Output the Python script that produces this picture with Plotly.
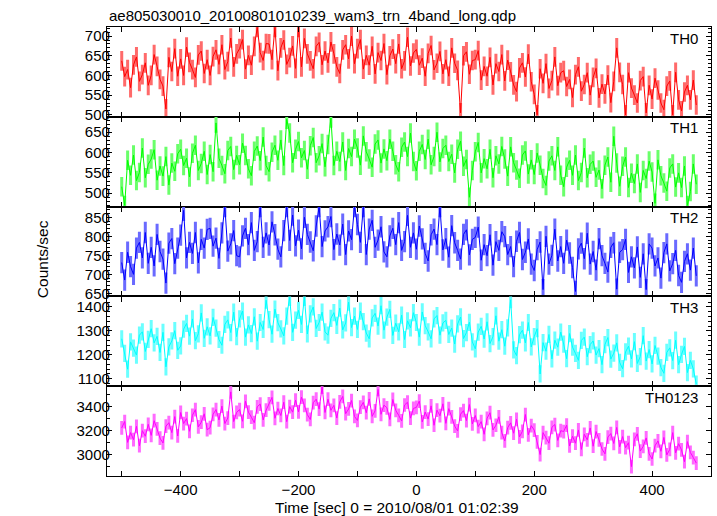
import numpy as np
import plotly.graph_objects as go
from plotly.subplots import make_subplots

title_text = "ae805030010_20100801010239_wam3_trn_4band_long.qdp"
x_title = "Time [sec] 0 = 2010/08/01 01:02:39"
y_title = "Counts/sec"
band_names = ["TH0", "TH1", "TH2", "TH3", "TH0123"]
colors = ["#ff0000", "#00ff00", "#0000ff", "#00ffff", "#ff00ff"]
err_colors = ["#ff6a6a", "#6aff6a", "#6a6aff", "#6affff", "#ff6aff"]
t_start = -500
t_step = 5

# typical 1-sigma error per bin
errs = [25, 24, 28, 36, 57]

th0 = [637, 597, 615, 569, 627, 647, 585, 602, 632, 575,
       600, 653, 623, 590, 573, 515, 646, 610, 668, 598,
       642, 600, 672, 633, 615, 595, 652, 662, 605, 640,
       600, 648, 665, 628, 678, 615, 635, 695, 622, 655,
       668, 691, 616, 651, 626, 674, 722, 658, 638, 681,
       680, 640, 722, 612, 670, 690, 628, 645, 675, 618,
       722, 622, 694, 655, 637, 617, 674, 684, 627, 662,
       632, 685, 655, 622, 605, 665, 678, 642, 700, 630,
       668, 691, 616, 651, 626, 674, 604, 658, 638, 681,
       602, 650, 667, 630, 680, 617, 637, 697, 624, 657,
       666, 626, 644, 598, 656, 676, 614, 631, 661, 604,
       640, 598, 670, 631, 613, 505, 650, 660, 603, 638,
       640, 663, 588, 623, 598, 646, 576, 630, 610, 653,
       586, 639, 609, 576, 559, 619, 632, 596, 654, 584,
       552, 500, 617, 580, 630, 567, 587, 647, 574, 607,
       612, 572, 590, 544, 602, 622, 560, 577, 607, 550,
       595, 618, 543, 578, 553, 601, 531, 585, 670, 608,
       577, 500, 607, 568, 550, 530, 587, 597, 505, 575,
       540, 593, 563, 530, 513, 573, 586, 500, 608, 538,
       510, 558, 575, 538, 588, 525]

th1 = [516, 470, 581, 544, 594, 531, 551, 611, 538, 571,
       584, 607, 532, 567, 542, 590, 520, 574, 554, 597,
       608, 568, 586, 540, 598, 618, 556, 573, 603, 546,
       595, 553, 673, 586, 568, 548, 605, 615, 558, 593,
       570, 623, 593, 560, 543, 603, 616, 580, 638, 568,
       553, 601, 618, 581, 631, 568, 682, 648, 575, 608,
       627, 587, 605, 559, 617, 637, 575, 592, 622, 565,
       620, 685, 568, 603, 578, 626, 556, 610, 590, 633,
       611, 569, 641, 602, 584, 564, 621, 631, 574, 609,
       580, 633, 603, 570, 553, 613, 626, 590, 648, 578,
       555, 603, 620, 583, 633, 570, 590, 650, 577, 610,
       618, 578, 596, 550, 608, 628, 566, 583, 490, 556,
       602, 625, 550, 585, 560, 608, 538, 592, 572, 615,
       584, 542, 614, 575, 557, 537, 594, 604, 547, 582,
       546, 599, 569, 536, 519, 579, 592, 556, 614, 544,
       516, 564, 581, 544, 594, 531, 551, 611, 538, 571,
       579, 539, 557, 511, 569, 589, 527, 640, 574, 517,
       566, 589, 514, 549, 524, 572, 502, 556, 536, 579,
       552, 475, 582, 543, 525, 505, 562, 572, 515, 550,
       514, 567, 470, 504, 572, 522]

th2 = [731, 685, 758, 720, 700, 769, 784, 743, 810, 729,
       771, 722, 805, 760, 740, 677, 782, 794, 728, 769,
       803, 868, 743, 784, 755, 810, 730, 792, 769, 818,
       821, 774, 795, 742, 809, 878, 761, 780, 815, 749,
       746, 801, 821, 778, 836, 763, 786, 878, 771, 809,
       777, 838, 804, 766, 746, 815, 878, 789, 856, 775,
       816, 767, 850, 805, 785, 762, 827, 878, 773, 814,
       825, 852, 765, 806, 777, 832, 752, 814, 791, 878,
       831, 784, 878, 752, 819, 842, 771, 790, 825, 759,
       746, 801, 821, 778, 836, 763, 786, 855, 771, 809,
       766, 827, 793, 755, 735, 804, 819, 778, 878, 764,
       794, 745, 828, 783, 763, 740, 805, 817, 751, 792,
       797, 824, 737, 778, 749, 804, 724, 786, 763, 812,
       799, 752, 773, 720, 787, 810, 739, 758, 793, 727,
       710, 765, 785, 660, 800, 727, 750, 819, 735, 773,
       729, 790, 756, 718, 655, 767, 782, 741, 808, 727,
       760, 711, 794, 749, 729, 706, 771, 783, 661, 758,
       765, 792, 705, 746, 717, 772, 692, 754, 660, 780,
       769, 722, 743, 690, 757, 780, 709, 728, 763, 697,
       679, 734, 754, 711, 769, 696]

th3 = [1267, 1206, 1140, 1254, 1228, 1199, 1282, 1296, 1214, 1265,
       1309, 1250, 1277, 1210, 1294, 1150, 1233, 1258, 1301, 1219,
       1237, 1307, 1331, 1278, 1350, 1259, 1288, 1375, 1269, 1317,
       1279, 1356, 1312, 1264, 1240, 1327, 1346, 1293, 1378, 1276,
       1350, 1383, 1274, 1325, 1289, 1359, 1257, 1335, 1306, 1428,
       1347, 1286, 1391, 1334, 1308, 1279, 1362, 1440, 1294, 1345,
       1386, 1327, 1440, 1287, 1371, 1400, 1310, 1335, 1378, 1296,
       1282, 1352, 1376, 1323, 1395, 1304, 1333, 1420, 1314, 1362,
       1306, 1383, 1339, 1291, 1267, 1354, 1373, 1320, 1405, 1303,
       1357, 1390, 1281, 1332, 1296, 1366, 1264, 1342, 1313, 1376,
       1335, 1274, 1379, 1322, 1296, 1267, 1350, 1364, 1282, 1333,
       1344, 1285, 1312, 1245, 1329, 1358, 1268, 1293, 1336, 1254,
       1225, 1295, 1319, 1266, 1338, 1247, 1276, 1363, 1257, 1305,
       1236, 1313, 1430, 1221, 1197, 1284, 1303, 1250, 1335, 1233,
       1276, 1309, 1120, 1251, 1215, 1285, 1183, 1261, 1232, 1295,
       1245, 1184, 1289, 1232, 1206, 1177, 1260, 1274, 1192, 1243,
       1258, 1199, 1226, 1159, 1243, 1272, 1182, 1207, 1250, 1168,
       1142, 1212, 1236, 1183, 1255, 1164, 1193, 1280, 1174, 1222,
       1162, 1239, 1195, 1147, 1123, 1210, 1229, 1176, 1261, 1159,
       1202, 1235, 1126, 1177, 1141, 1078]

th0123 = [3221, 3274, 3101, 3182, 3124, 3234, 3073, 3198, 3152, 3251,
          3159, 3281, 3212, 3136, 3096, 3235, 3264, 3182, 3315, 3154,
          3349, 3257, 3298, 3193, 3326, 3372, 3229, 3268, 3338, 3206,
          3223, 3333, 3373, 3287, 3402, 3257, 3303, 3520, 3274, 3350,
          3373, 3276, 3442, 3352, 3310, 3264, 3396, 3419, 3287, 3368,
          3421, 3474, 3301, 3382, 3324, 3434, 3273, 3398, 3352, 3451,
          3354, 3476, 3407, 3331, 3291, 3430, 3459, 3377, 3560, 3349,
          3459, 3367, 3408, 3303, 3436, 3482, 3339, 3378, 3448, 3316,
          3283, 3393, 3433, 3347, 3462, 3317, 3363, 3540, 3334, 3410,
          3388, 3291, 3457, 3367, 3325, 3279, 3411, 3434, 3302, 3383,
          3391, 3444, 3271, 3352, 3294, 3404, 3243, 3368, 3322, 3421,
          3259, 3381, 3312, 3236, 3196, 3335, 3364, 3282, 3415, 3254,
          3324, 3232, 3273, 3168, 3301, 3347, 3204, 3243, 3313, 3181,
          3113, 3223, 3263, 3177, 3292, 3147, 3193, 3332, 3164, 3240,
          3203, 3106, 3000, 3182, 3140, 3094, 3226, 3249, 3117, 3198,
          3191, 3244, 3071, 3152, 3094, 3204, 3043, 3168, 3122, 3221,
          3069, 3191, 3122, 3046, 3006, 3145, 3174, 3092, 3225, 3064,
          3149, 3057, 3098, 2900, 3126, 3172, 3029, 3068, 3138, 3006,
          2963, 3073, 3113, 3027, 3142, 2997, 3043, 3182, 3014, 3090,
          3038, 2941, 3107, 3017, 2975, 2929]

series = [th0, th1, th2, th3, th0123]
y_ranges = [[495, 723], [467, 688], [642, 878], [1069, 1444], [2822, 3567]]
y_dticks = [50, 50, 50, 100, 200]
y_minor = [10, 10, 10, 20, 100]

FONT = "Liberation Sans, Arial, Helvetica, sans-serif"

fig = make_subplots(rows=5, cols=1, shared_xaxes=True, vertical_spacing=0)

for i, vals in enumerate(series):
    t = t_start + t_step * np.arange(len(vals))
    fig.add_trace(go.Scatter(x=t, y=vals, mode="markers",
                             marker=dict(size=1, opacity=0),
                             error_y=dict(type="constant", value=errs[i],
                                          color=err_colors[i], thickness=3,
                                          width=0),
                             showlegend=False, hoverinfo="skip"),
                  row=i + 1, col=1)
    fig.add_trace(go.Scatter(x=t, y=vals, mode="lines",
                             line=dict(color=colors[i], width=1),
                             showlegend=False, hoverinfo="skip"),
                  row=i + 1, col=1)
    fig.update_yaxes(range=y_ranges[i], dtick=y_dticks[i], tick0=0,
                     ticks="inside", ticklen=5, tickwidth=1, tickcolor="black",
                     minor=dict(dtick=y_minor[i], ticks="inside", ticklen=2.5,
                                tickwidth=1, tickcolor="black"),
                     showline=True, linecolor="black", linewidth=1.2,
                     mirror="allticks", showgrid=False, zeroline=False,
                     ticklabelstandoff=-7,
                     tickfont=dict(size=15, color="black", family=FONT),
                     row=i + 1, col=1)
    fig.update_xaxes(range=[-525, 500], dtick=200, tick0=0,
                     ticks="inside", ticklen=5, tickwidth=1, tickcolor="black",
                     minor=dict(dtick=100, ticks="inside", ticklen=5,
                                tickwidth=1, tickcolor="black"),
                     showline=True, linecolor="black", linewidth=1.2,
                     mirror="allticks", showgrid=False, zeroline=False,
                     showticklabels=(i == 4),
                     tickfont=dict(size=15, color="black", family=FONT),
                     row=i + 1, col=1)

annotations = []
n = len(band_names)
for i, name in enumerate(band_names):
    y_top = 1 - i / n
    annotations.append(dict(text=name, xref="paper", yref="paper",
                            x=1, y=y_top, xanchor="right", yanchor="middle",
                            xshift=-11, yshift=-11, showarrow=False,
                            font=dict(size=15, color="black", family=FONT)))
annotations.append(dict(text=title_text, xref="paper", yref="paper",
                        x=0, y=1, xanchor="left", yanchor="middle",
                        yshift=12, showarrow=False,
                        font=dict(size=15, color="black", family=FONT)))
annotations.append(dict(text=x_title, xref="paper", yref="paper",
                        x=0.4804, y=0, xanchor="center", yanchor="middle",
                        yshift=-31, showarrow=False,
                        font=dict(size=15.5, color="black", family=FONT)))
annotations.append(dict(text=y_title, xref="paper", yref="paper",
                        x=-0.1076, y=0.483, xanchor="center", yanchor="middle",
                        textangle=-90, showarrow=False,
                        font=dict(size=15.5, color="black", family=FONT)))

fig.update_layout(width=717, height=516,
                  margin=dict(l=107, r=6, t=27, b=40),
                  paper_bgcolor="white", plot_bgcolor="white",
                  annotations=annotations,
                  font=dict(family=FONT, color="black"))

fig.write_html("out.html", config={"displayModeBar": False},
               post_script="document.body.style.margin='0px';document.body.style.overflow='hidden';")
